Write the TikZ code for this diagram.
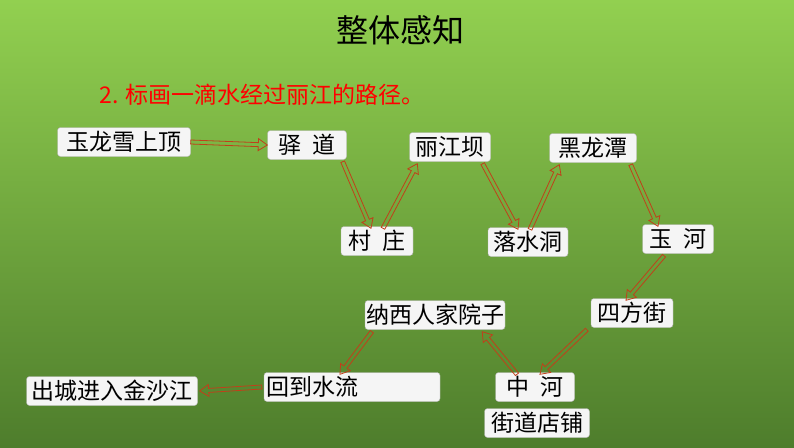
\documentclass[tikz,border=0pt]{standalone}
\usepackage{fontspec}
\setmainfont{Noto Sans CJK SC}
\usetikzlibrary{calc, positioning}
\definecolor{bgtop}{HTML}{92D050}
\definecolor{bgbot}{HTML}{4E7D2C}
\definecolor{arrred}{HTML}{C0401A}
% hollow block arrow from #1 to #2
\newcommand{\flowarrow}[2]{%
  \coordinate (fa) at #1;
  \coordinate (fb) at #2;
  \coordinate (fc) at ($(fb)!9pt!(fa)$);
  \draw[flow] ($(fa)!2pt!90:(fb)$) -- ($(fc)!2pt!90:(fb)$) -- ($(fc)!6pt!90:(fb)$) -- (fb)
    -- ($(fc)!6pt!-90:(fb)$) -- ($(fc)!2pt!-90:(fb)$) -- ($(fa)!2pt!-90:(fb)$) -- cycle;}

\begin{document}
\begin{tikzpicture}[x=1pt, y=-1pt,
    place/.style={draw=gray!60, fill=gray!8, rounded corners=3pt, inner sep=1pt, minimum height=29pt, font=\fontsize{23}{25}\selectfont},
    flow/.style={draw=arrred, line width=0.8pt, line join=miter}]
        \shade[top color=bgtop, bottom color=bgbot] (0,0) rectangle (794,447);
        \useasboundingbox (0,0) rectangle (794,447);
        \node (title) at (400,30) {\fontsize{32}{34}\selectfont 整体感知};
        \node[anchor=west, text=red] (task) at (96,95) {\fontsize{23}{25}\selectfont 2. 标画一滴水经过丽江的路径。};

        \node[place, minimum width=133pt] (peak) at (124,142) {玉龙雪上顶};
        \node[place, minimum width=79pt] (road) at (307,145) {驿\enspace 道};
        \node[place, minimum width=81pt] (ljb) at (450,147) {丽江坝};
        \node[place, minimum width=87pt] (hlt) at (593,148) {黑龙潭};
        \node[place, minimum width=72pt] (village) at (377,241) {村\enspace 庄};
        \node[place, minimum width=80pt] (cave) at (528,242) {落水洞};
        \node[place, minimum width=71pt] (yuhe) at (678,239) {玉\enspace 河};
        \node[place, minimum width=82pt] (sfj) at (632,313) {四方街};
        \node[place, minimum width=140pt] (naxi) at (435,315) {纳西人家院子};
        \node[place, minimum width=176pt, text width=172pt] (back) at (352,387) {回到水流};
        \node[place, minimum width=171pt] (out) at (112,391) {出城进入金沙江};
        \node[place, minimum width=79pt] (zhong) at (535,387) {中\enspace 河};
        \node[place, minimum width=105pt] (shop) at (537,423) {街道店铺};

        \flowarrow{(peak.east)}{(road.west)}
        \flowarrow{([xshift=-4pt,yshift=-2pt]road.south east)}{([xshift=-6pt,yshift=-2pt]village.north)}
        \flowarrow{([xshift=6pt,yshift=-2pt]village.north)}{([xshift=8pt,yshift=-2pt]ljb.south west)}
        \flowarrow{([xshift=-8pt,yshift=-2pt]ljb.south east)}{([xshift=-10pt,yshift=-2pt]cave.north)}
        \flowarrow{([xshift=2pt,yshift=-2pt]cave.north)}{([xshift=10pt,yshift=-2pt]hlt.south west)}
        \flowarrow{([xshift=-6pt,yshift=-2pt]hlt.south east)}{([xshift=-20pt,yshift=-2pt]yuhe.north)}
        \flowarrow{([xshift=-14pt,yshift=-2pt]yuhe.south)}{([xshift=-6pt,yshift=-2pt]sfj.north)}
        \flowarrow{([xshift=-4pt,yshift=-2pt]sfj.south west)}{([xshift=5pt,yshift=-2pt]zhong.north)}
        \flowarrow{([xshift=-18pt,yshift=-2pt]zhong.north)}{([xshift=-23pt,yshift=-2pt]naxi.south east)}
        \flowarrow{([xshift=7pt,yshift=-2pt]naxi.south west)}{([xshift=-12pt,yshift=-2pt]back.north)}
        \flowarrow{([xshift=-2pt]back.west)}{([xshift=2pt]out.east)}
\end{tikzpicture}
\end{document}
